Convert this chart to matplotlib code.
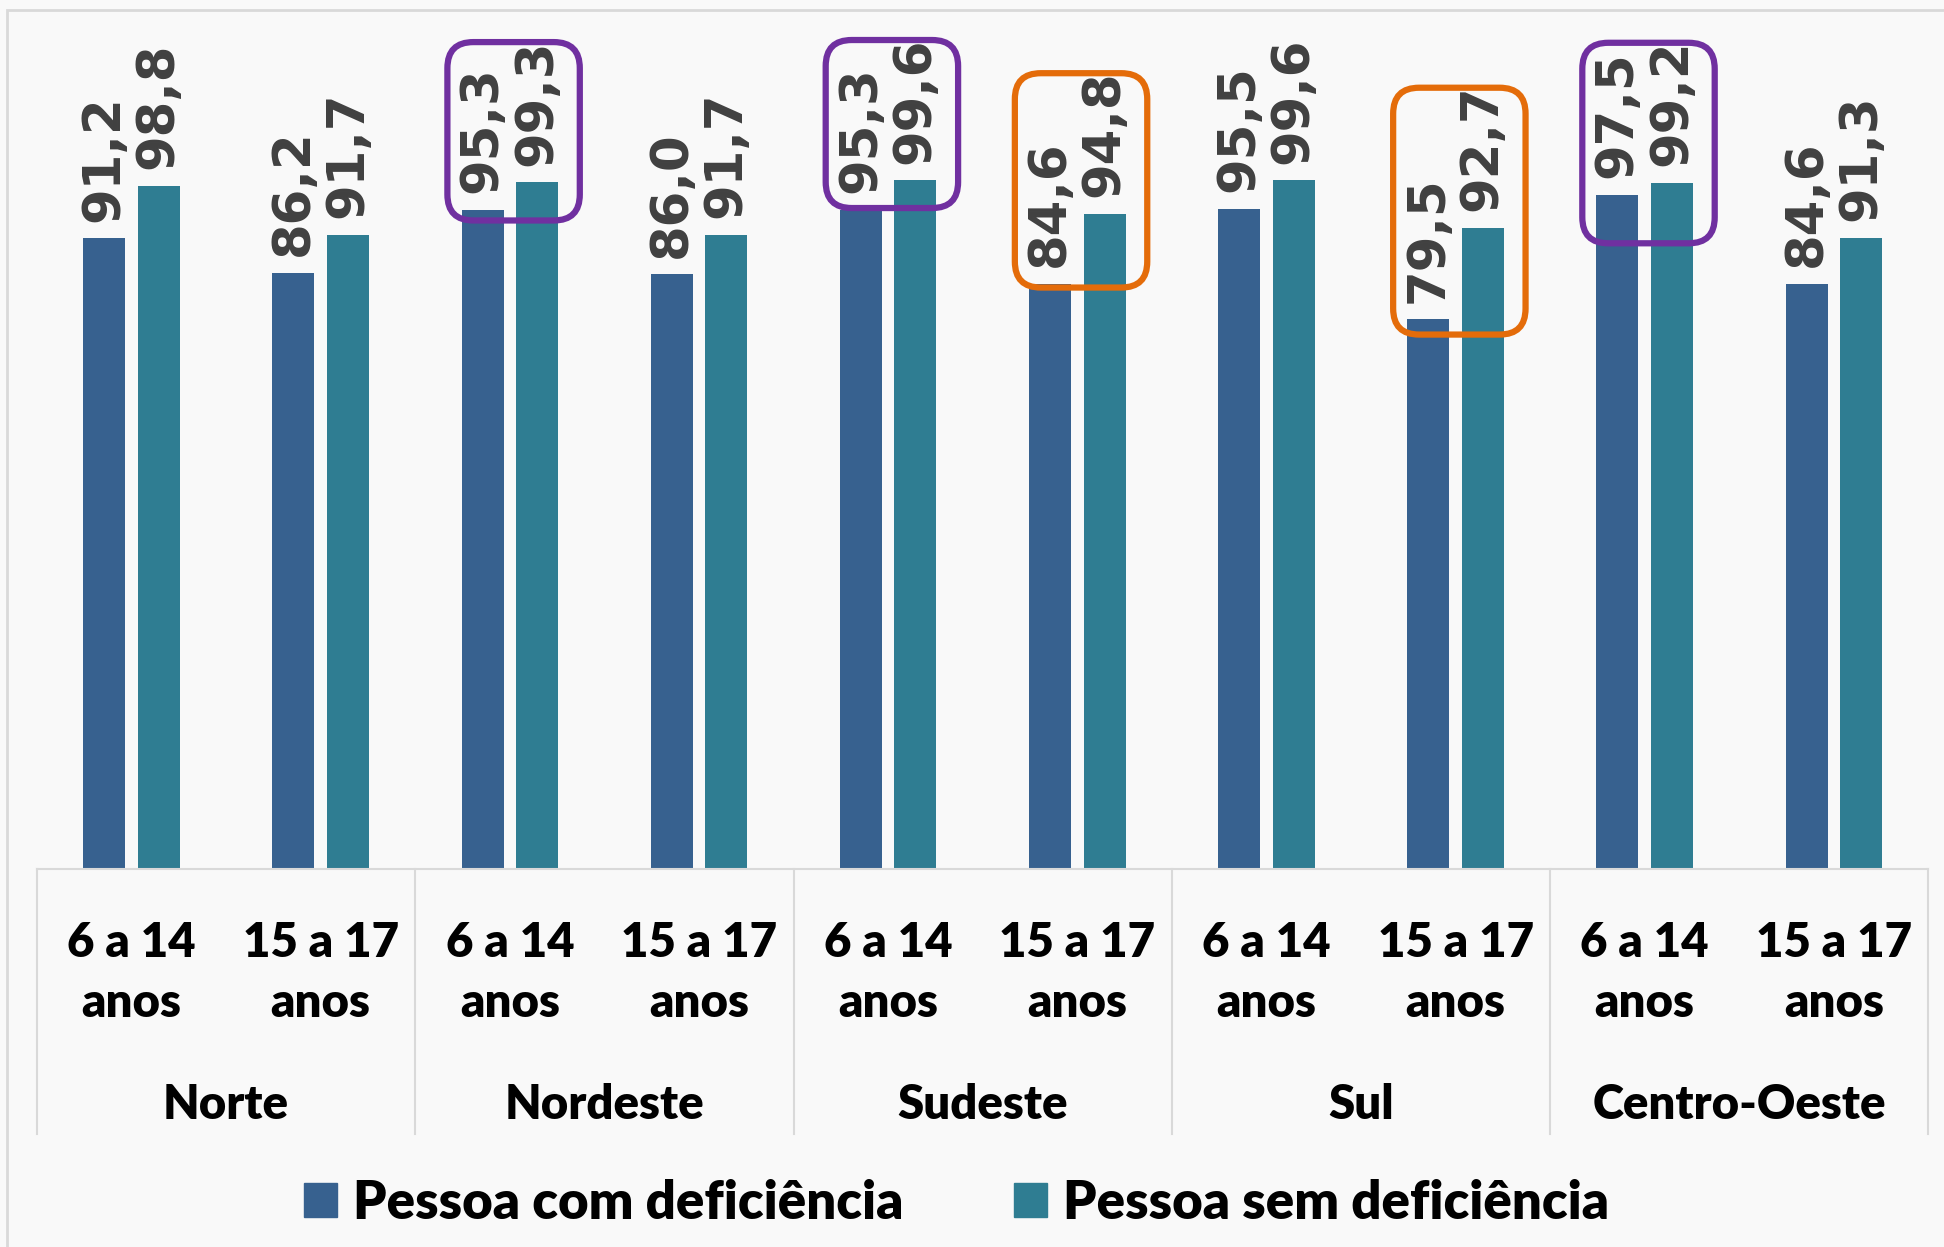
import matplotlib.pyplot as plt
import matplotlib.transforms as mtransforms
from matplotlib.patches import FancyBboxPatch, Rectangle, Patch
from matplotlib.lines import Line2D

regions = ["Norte", "Nordeste", "Sudeste", "Sul", "Centro-Oeste"]
age_groups = ["6 a 14\nanos", "15 a 17\nanos"]
com_deficiencia = [91.2, 86.2, 95.3, 86.0, 95.3, 84.6, 95.5, 79.5, 97.5, 84.6]
sem_deficiencia = [98.8, 91.7, 99.3, 91.7, 99.6, 94.8, 99.6, 92.7, 99.2, 91.3]
series_names = ["Pessoa com deficiência", "Pessoa sem deficiência"]

# highlighted groups: (group index, colour, lower edge of the box in value units)
highlights = [
    (2, "#7030A0", 93.8),
    (4, "#7030A0", 95.6),
    (5, "#E46C0A", 84.1),
    (7, "#E46C0A", 77.3),
    (8, "#7030A0", 90.5),
]

BLUE = "#37618F"
TEAL = "#2F7D92"
BG = "#F9F9F9"
GRID = "#D9D9D9"
CAT_FONT = ["Lato", "DejaVu Sans"]


def fmt(v):
    return f"{v:.1f}".replace(".", ",")


def main():
    fig = plt.figure(figsize=(19.44, 12.47), dpi=100, facecolor=BG)
    ax = fig.add_axes([0.019, 0.3031, 0.973, 0.682])
    ax.set_facecolor("none")
    ax.set_xlim(-0.5, 9.5)
    ax.set_ylim(0, 123)
    for s in ax.spines.values():
        s.set_visible(False)
    ax.set_xticks([])
    ax.set_yticks([])

    n = len(com_deficiencia)
    xs = list(range(n))
    w = 0.222
    off = 0.144
    ax.bar([x - off for x in xs], com_deficiencia, w, color=BLUE)
    ax.bar([x + off for x in xs], sem_deficiencia, w, color=TEAL)

    for x, a, b in zip(xs, com_deficiencia, sem_deficiencia):
        for xx, v in ((x - off, a), (x + off, b)):
            ax.annotate(fmt(v), (xx, v), xytext=(0, 12), textcoords="offset points",
                        rotation=90, ha="center", va="bottom", fontsize=37,
                        fontweight="bold", color="#404040", family="DejaVu Sans")

    # category table below the axis
    fig_y = mtransforms.blended_transform_factory(ax.transData, fig.transFigure)
    ax.plot([-0.5, 9.5], [0, 0], color=GRID, lw=1.5, clip_on=False)
    bottom_frac = 1 - 1134 / 1247
    for k in range(len(regions) + 1):
        xb = -0.5 + 2 * k
        ax.add_line(Line2D([xb, xb], [0.3031, bottom_frac], transform=fig_y,
                           color=GRID, lw=1.5, clip_on=False))
    for x in xs:
        ax.text(x, 0.2195, age_groups[x % 2], transform=fig_y, ha="center", va="center",
                fontsize=34, fontweight="heavy", family=CAT_FONT, linespacing=1.45)
    for k, r in enumerate(regions):
        ax.text(2 * k + 0.5, 0.1135, r, transform=fig_y, ha="center", va="center",
                fontsize=34, fontweight="heavy", family=CAT_FONT)

    # rounded highlight boxes, drawn in pixels so corners stay round
    fig.canvas.draw()
    for g, col, low in highlights:
        top = sem_deficiencia[g] + 20.3
        (x0, y0) = ax.transData.transform((g - 0.33, low))
        (x1, y1) = ax.transData.transform((g + 0.37, top))
        box = FancyBboxPatch((x0, y0), x1 - x0, y1 - y0,
                             boxstyle="round,pad=0,rounding_size=26",
                             fill=False, edgecolor=col, lw=4.5,
                             transform=mtransforms.IdentityTransform())
        fig.add_artist(box)

    # outer frame (only top and left visible in the reference)
    fig.add_artist(Rectangle((7 / 1944, -0.1), 1.2, 1.1 - 10 / 1247,
                             transform=fig.transFigure, fill=False,
                             edgecolor=GRID, lw=2))

    handles = [Patch(color=BLUE), Patch(color=TEAL)]
    fig.legend(handles, series_names, loc="center", bbox_to_anchor=(0.492, 0.035),
               ncol=2, frameon=False, handlelength=0.62, handleheight=0.62,
               handletextpad=0.3, columnspacing=2.1,
               prop={"family": CAT_FONT, "weight": "heavy", "size": 38})

    fig.savefig("out.png", dpi=100, facecolor=BG)


if __name__ == "__main__":
    main()
